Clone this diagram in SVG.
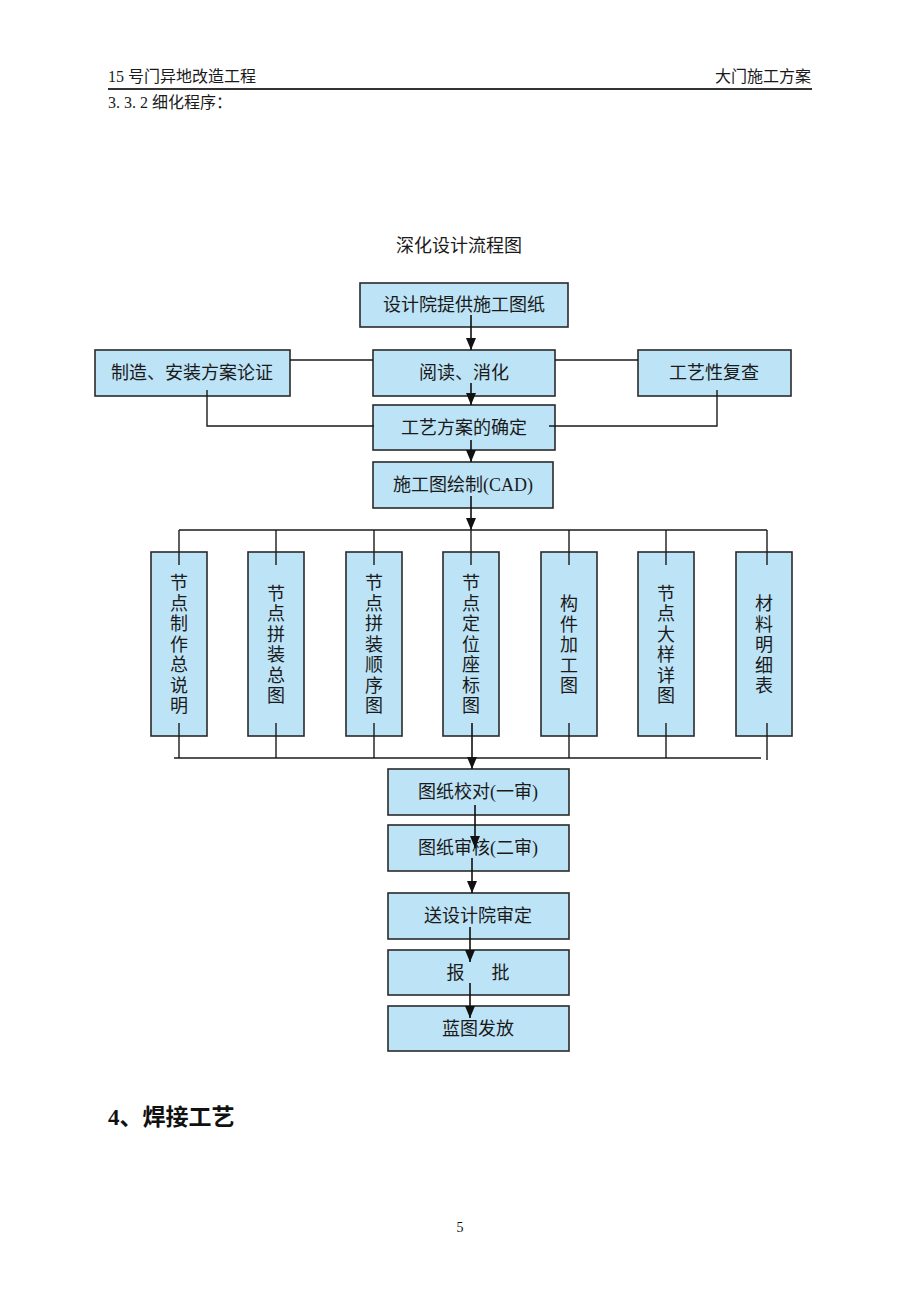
<svg xmlns="http://www.w3.org/2000/svg" width="920" height="1302" viewBox="0 0 920 1302">
<defs>
<marker id="ah" markerWidth="12" markerHeight="10" refX="12" refY="5" orient="auto" markerUnits="userSpaceOnUse" viewBox="0 0 12 10">
<path d="M0,0 L12,5 L0,10 Z" fill="#111"/>
</marker>
<style>
.bx{fill:#BDE3F6;stroke:#2a2a2a;stroke-width:1.6}
.t{font-family:"Liberation Serif","Noto Sans CJK SC",serif;font-size:18px;fill:#1a1a1a;text-anchor:middle}
.h{font-family:"Liberation Serif","Noto Sans CJK SC",serif;font-size:16px;fill:#1a1a1a}
.ln{stroke:#1a1a1a;stroke-width:1.4;fill:none}
.ar{stroke:#111;stroke-width:1.6;fill:none}
</style>
</defs>
<rect width="920" height="1302" fill="#fff"/>
<g id="header">
<text class="h" x="108" y="82">15 号门异地改造工程</text>
<text class="h" x="811" y="82" text-anchor="end">大门施工方案</text>
<line x1="108" y1="89" x2="812" y2="89" stroke="#333" stroke-width="2"/>
<text class="h" x="108" y="108">3. 3. 2 细化程序：</text>
<text class="t" x="459" y="252">深化设计流程图</text>
</g>
<g id="n1"><rect class="bx" x="360" y="283" width="208" height="44"/><text class="t" x="464" y="311">设计院提供施工图纸</text></g>
<g id="n2"><rect class="bx" x="373" y="350" width="182" height="46"/><text class="t" x="464" y="379">阅读、消化</text></g>
<g id="n3"><rect class="bx" x="95" y="350" width="195" height="46"/><text class="t" x="192" y="379">制造、安装方案论证</text></g>
<g id="n4"><rect class="bx" x="638" y="350" width="153" height="46"/><text class="t" x="714" y="379">工艺性复查</text></g>
<g id="n5"><rect class="bx" x="373" y="405" width="182" height="45"/><text class="t" x="464" y="434">工艺方案的确定</text></g>
<g id="n6"><rect class="bx" x="373" y="462" width="180" height="46"/><text class="t" x="463" y="491">施工图绘制(CAD)</text></g>
<g id="v1"><rect class="bx" x="151" y="552" width="56" height="184"/>
<text class="t" x="179"><tspan x="179" y="589">节</tspan><tspan x="179" dy="20.5">点</tspan><tspan x="179" dy="20.5">制</tspan><tspan x="179" dy="20.5">作</tspan><tspan x="179" dy="20.5">总</tspan><tspan x="179" dy="20.5">说</tspan><tspan x="179" dy="20.5">明</tspan></text></g>
<g id="v2"><rect class="bx" x="248" y="552" width="56" height="184"/>
<text class="t" x="276"><tspan x="276" y="599.5">节</tspan><tspan x="276" dy="20.5">点</tspan><tspan x="276" dy="20.5">拼</tspan><tspan x="276" dy="20.5">装</tspan><tspan x="276" dy="20.5">总</tspan><tspan x="276" dy="20.5">图</tspan></text></g>
<g id="v3"><rect class="bx" x="346" y="552" width="56" height="184"/>
<text class="t" x="374"><tspan x="374" y="589">节</tspan><tspan x="374" dy="20.5">点</tspan><tspan x="374" dy="20.5">拼</tspan><tspan x="374" dy="20.5">装</tspan><tspan x="374" dy="20.5">顺</tspan><tspan x="374" dy="20.5">序</tspan><tspan x="374" dy="20.5">图</tspan></text></g>
<g id="v4"><rect class="bx" x="443" y="552" width="56" height="184"/>
<text class="t" x="471"><tspan x="471" y="589">节</tspan><tspan x="471" dy="20.5">点</tspan><tspan x="471" dy="20.5">定</tspan><tspan x="471" dy="20.5">位</tspan><tspan x="471" dy="20.5">座</tspan><tspan x="471" dy="20.5">标</tspan><tspan x="471" dy="20.5">图</tspan></text></g>
<g id="v5"><rect class="bx" x="541" y="552" width="56" height="184"/>
<text class="t" x="569"><tspan x="569" y="610">构</tspan><tspan x="569" dy="20.5">件</tspan><tspan x="569" dy="20.5">加</tspan><tspan x="569" dy="20.5">工</tspan><tspan x="569" dy="20.5">图</tspan></text></g>
<g id="v6"><rect class="bx" x="638" y="552" width="56" height="184"/>
<text class="t" x="666"><tspan x="666" y="599.5">节</tspan><tspan x="666" dy="20.5">点</tspan><tspan x="666" dy="20.5">大</tspan><tspan x="666" dy="20.5">样</tspan><tspan x="666" dy="20.5">详</tspan><tspan x="666" dy="20.5">图</tspan></text></g>
<g id="v7"><rect class="bx" x="736" y="552" width="56" height="184"/>
<text class="t" x="764"><tspan x="764" y="610">材</tspan><tspan x="764" dy="20.5">料</tspan><tspan x="764" dy="20.5">明</tspan><tspan x="764" dy="20.5">细</tspan><tspan x="764" dy="20.5">表</tspan></text></g>
<g id="n7"><rect class="bx" x="388" y="769" width="181" height="46"/><text class="t" x="478" y="798">图纸校对(一审)</text></g>
<g id="n8"><rect class="bx" x="388" y="825" width="181" height="46"/><text class="t" x="478" y="854">图纸审核(二审)</text></g>
<g id="n9"><rect class="bx" x="388" y="893" width="181" height="46"/><text class="t" x="478" y="922">送设计院审定</text></g>
<g id="n10"><rect class="bx" x="388" y="950" width="181" height="45"/><text class="t" x="478" y="979" xml:space="preserve">报      批</text></g>
<g id="n11"><rect class="bx" x="388" y="1006" width="181" height="45"/><text class="t" x="478" y="1035">蓝图发放</text></g>
<g id="connectors">
<line class="ln" x1="290" y1="360" x2="373" y2="360"/>
<line class="ln" x1="555" y1="360" x2="638" y2="360"/>
<polyline class="ln" points="207,390 207,426 374,426"/>
<polyline class="ln" points="717,390 717,426 549,426"/>
<line class="ar" x1="471" y1="315" x2="471" y2="350" marker-end="url(#ah)"/>
<line class="ar" x1="471" y1="383" x2="471" y2="405" marker-end="url(#ah)"/>
<line class="ar" x1="471" y1="440" x2="471" y2="462" marker-end="url(#ah)"/>
<line class="ar" x1="471" y1="496" x2="471" y2="530" marker-end="url(#ah)"/>
<line class="ln" x1="179" y1="530" x2="767" y2="530"/>
<line class="ln" x1="179" y1="530" x2="179" y2="565"/>
<line class="ln" x1="276" y1="530" x2="276" y2="565"/>
<line class="ln" x1="374" y1="530" x2="374" y2="565"/>
<line class="ln" x1="471" y1="530" x2="471" y2="565"/>
<line class="ln" x1="569" y1="530" x2="569" y2="565"/>
<line class="ln" x1="666" y1="530" x2="666" y2="565"/>
<line class="ln" x1="767" y1="530" x2="767" y2="565"/>
<line class="ln" x1="179" y1="723" x2="179" y2="758"/>
<line class="ln" x1="276" y1="723" x2="276" y2="758"/>
<line class="ln" x1="374" y1="723" x2="374" y2="758"/>
<line class="ln" x1="569" y1="723" x2="569" y2="758"/>
<line class="ln" x1="666" y1="723" x2="666" y2="758"/>
<line class="ln" x1="767" y1="723" x2="767" y2="760"/>
<line class="ln" x1="174" y1="758" x2="761" y2="758"/>
<line class="ar" x1="472" y1="723" x2="472" y2="769" marker-end="url(#ah)"/>
<line class="ar" x1="475" y1="805" x2="475" y2="848" marker-end="url(#ah)"/>
<line class="ar" x1="472" y1="858" x2="472" y2="893" marker-end="url(#ah)"/>
<line class="ar" x1="470" y1="927" x2="470" y2="962" marker-end="url(#ah)"/>
<line class="ar" x1="470" y1="983" x2="470" y2="1018" marker-end="url(#ah)"/>
</g>
<g id="footer">
<text x="108" y="1125" style="font-family:'Liberation Serif','Noto Sans CJK SC',serif;font-size:23px;font-weight:bold;fill:#111">4、焊接工艺</text>
<text x="460" y="1232" style="font-family:'Liberation Serif','Noto Sans CJK SC',serif;font-size:14px;fill:#111;text-anchor:middle">5</text>
</g>
</svg>
